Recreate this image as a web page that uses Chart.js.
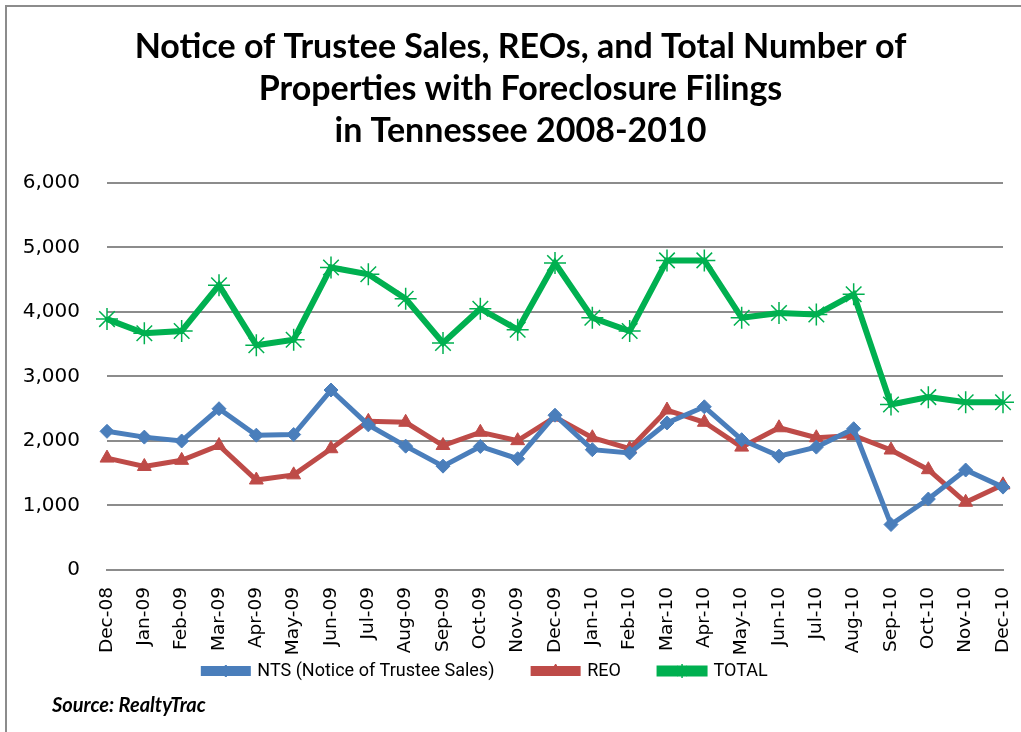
<!DOCTYPE html>
<html>
<head>
<meta charset="utf-8">
<script src="https://cdn.jsdelivr.net/npm/chart.js@4.4.0/dist/chart.umd.min.js"></script>
<style>
  html, body { margin: 0; padding: 0; background: #fff; overflow: hidden; }
  #frame { position: absolute; left: 5px; top: 5px; width: 1200px; height: 1000px; border: 2px solid #8c8c8c; box-sizing: border-box; }
  #wrap { position: absolute; left: 0; top: 0; width: 1021px; height: 732px; }
</style>
</head>
<body>
<div id="frame"></div>
<div id="wrap"><canvas id="c" width="1021" height="732"></canvas></div>
<script>
const categories = ["Dec-08","Jan-09","Feb-09","Mar-09","Apr-09","May-09","Jun-09","Jul-09","Aug-09","Sep-09","Oct-09","Nov-09","Dec-09","Jan-10","Feb-10","Mar-10","Apr-10","May-10","Jun-10","Jul-10","Aug-10","Sep-10","Oct-10","Nov-10","Dec-10"];
const ntsValues   = [2150,2060,2000,2500,2090,2100,2790,2250,1920,1610,1915,1725,2400,1865,1815,2280,2530,2020,1765,1905,2190,705,1100,1550,1285];
const reoValues   = [1735,1605,1700,1930,1395,1475,1880,2305,2290,1930,2135,2005,2370,2050,1880,2480,2290,1905,2205,2050,2085,1860,1555,1050,1320];
const totalValues = [3890,3670,3705,4415,3485,3570,4690,4585,4205,3520,4050,3725,4760,3910,3705,4800,4800,3910,3985,3960,4275,2565,2680,2600,2600];
const yTicks = [0,1000,2000,3000,4000,5000,6000];
const titleLines = ["Notice of Trustee Sales, REOs, and Total Number of","Properties with Foreclosure Filings","in Tennessee 2008-2010"];
const seriesNames = ["NTS (Notice of Trustee Sales)","REO","TOTAL"];
const sourceText = "Source: RealtyTrac";

const layoutShift = {
  id: 'layoutShift',
  afterLayout(chart) {
    if (chart.titleBlock) { chart.titleBlock.left += 10; chart.titleBlock.right += 10; }
    if (chart.legend) { chart.legend.left -= 25; chart.legend.right -= 25; }
  }
};

const legendMarkers = {
  id: 'legendMarkers',
  afterDraw(chart) {
    const legend = chart.legend;
    const ctx = chart.ctx;
    if (legend && legend.legendHitBoxes) {
      legend.legendHitBoxes.forEach((box, i) => {
        const ds = chart.data.datasets[i];
        const bw = legend.options.labels.boxWidth;
        const cx = box.left + bw / 2;
        const cy = box.top + box.height / 2;
        ctx.save();
        ctx.fillStyle = ds.pointBackgroundColor;
        ctx.strokeStyle = ds.pointBorderColor;
        ctx.lineWidth = ds.pointBorderWidth;
        Chart.helpers.drawPoint(ctx, {pointStyle: ds.pointStyle, rotation: 0, radius: ds.legendRadius, borderWidth: ds.pointBorderWidth}, cx, cy);
        ctx.restore();
      });
    }
    ctx.save();
    ctx.font = 'bold italic 20px Lato, "Open Sans", sans-serif';
    ctx.fillStyle = '#000';
    ctx.textBaseline = 'middle';
    ctx.textAlign = 'left';
    ctx.fillText(sourceText, 52, 706);
    ctx.restore();
  }
};

new Chart(document.getElementById('c'), {
  type: 'line',
  data: {
    labels: categories,
    datasets: [
      { label: seriesNames[0], data: ntsValues, borderColor: '#4A7EBB', backgroundColor: '#4A7EBB', borderWidth: 5,
        pointStyle: 'rectRot', pointRadius: 7, legendRadius: 6, pointBackgroundColor: '#4A7EBB', pointBorderColor: '#4A7EBB', pointBorderWidth: 1, tension: 0 },
      { label: seriesNames[1], data: reoValues, borderColor: '#BE4B48', backgroundColor: '#BE4B48', borderWidth: 5,
        pointStyle: 'triangle', pointRadius: 8, legendRadius: 7, pointBackgroundColor: '#BE4B48', pointBorderColor: '#BE4B48', pointBorderWidth: 1, tension: 0 },
      { label: seriesNames[2], data: totalValues, borderColor: '#00B050', backgroundColor: '#00B050', borderWidth: 6,
        pointStyle: 'star', pointRadius: 11, legendRadius: 7, pointBackgroundColor: '#00B050', pointBorderColor: '#00B050', pointBorderWidth: 1.5, tension: 0 }
    ]
  },
  plugins: [layoutShift, legendMarkers],
  options: {
    responsive: false,
    animation: false,
    layout: { padding: { left: 0, right: 0, top: 20, bottom: 42 } },
    plugins: {
      title: {
        display: true,
        text: titleLines,
        color: '#000',
        font: { family: 'Lato, "Open Sans", sans-serif', size: 34, weight: 'bold', lineHeight: 1.235 },
        padding: { top: 6, bottom: 31 }
      },
      legend: {
        position: 'bottom',
        labels: {
          color: '#000',
          boxWidth: 45,
          boxHeight: 5,
          padding: 2,
          font: { family: 'Roboto, sans-serif', size: 18 },
          generateLabels(chart) {
            const items = Chart.defaults.plugins.legend.labels.generateLabels(chart);
            items.forEach((it, i) => { if (i < items.length - 1) it.text = it.text + '\u2003\u2003'; });
            return items;
          }
        }
      },
      tooltip: { enabled: false }
    },
    scales: {
      x: {
        offset: false,
        grid: { display: false, drawTicks: false },
        border: { display: true, color: '#8c8c8c', width: 2 },
        ticks: { color: '#000', minRotation: 90, maxRotation: 90, autoSkip: false, padding: 17,
                 font: { family: '"DejaVu Sans", sans-serif', size: 18.5 } },
        afterFit(scale) { scale.height = 90; scale.paddingRight = 18; }
      },
      y: {
        min: 0, max: 6000,
        afterBuildTicks(scale) { scale.ticks = yTicks.map(v => ({ value: v })); },
        grid: { color: '#8c8c8c', lineWidth: 2, drawTicks: false },
        border: { display: false },
        ticks: { color: '#000', padding: 27,
                 font: { family: '"DejaVu Sans", sans-serif', size: 20 },
                 callback: v => v.toLocaleString('en-US') },
        afterFit(scale) { scale.width = 107; }
      }
    }
  }
});
</script>
</body>
</html>
